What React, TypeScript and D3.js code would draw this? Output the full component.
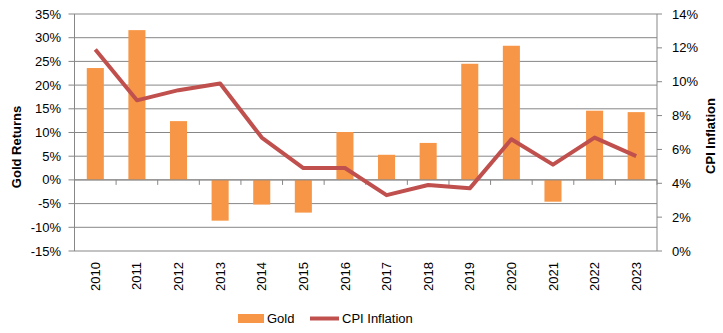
import React from "react";
import * as d3 from "d3";

const years = ["2010","2011","2012","2013","2014","2015","2016","2017","2018","2019","2020","2021","2022","2023"];
const goldReturns = [23.6, 31.6, 12.4, -8.6, -5.2, -6.9, 10.1, 5.3, 7.8, 24.5, 28.3, -4.6, 14.6, 14.3];
const cpiInflation = [11.9, 8.9, 9.5, 9.9, 6.7, 4.9, 4.9, 3.3, 3.9, 3.7, 6.6, 5.1, 6.7, 5.6];
const leftTicks = [-15, -10, -5, 0, 5, 10, 15, 20, 25, 30, 35];
const rightTicks = [0, 2, 4, 6, 8, 10, 12, 14];

const W = 723, H = 333;
const L = 74.5, R = 657, T = 14, B = 251;
const FONT = "'Liberation Sans', Arial, sans-serif";
const GRID = "#878787";
const ORANGE = "#F79646";
const RED = "#C0504D";

export default function App() {
  const x = d3.scaleBand<string>().domain(years).range([L, R]).paddingInner(0.59).paddingOuter(0.295);
  const xb = d3.scaleBand<string>().domain(years).range([L, R]);
  const yL = d3.scaleLinear().domain([-15, 35]).range([B, T]);
  const yR = d3.scaleLinear().domain([0, 14]).range([B, T]);
  const line = d3.line<number>()
    .x((_, i) => (xb(years[i]) as number) + xb.bandwidth() / 2)
    .y((d) => yR(d));
  const zero = yL(0);

  return (
    <svg width={W} height={H} style={{ position: "absolute", left: 0, top: 0, background: "#fff" }} fontFamily={FONT}>
      {leftTicks.map((t) => (
        <g key={"g" + t}>
          <line x1={L - 6} x2={R} y1={yL(t)} y2={yL(t)} stroke={GRID} strokeWidth={1} />
          <text x={61} y={yL(t)} dy="0.35em" textAnchor="end" fontSize={13} fill="#000">{t}%</text>
        </g>
      ))}
      <line x1={L} x2={L} y1={T} y2={B} stroke={GRID} strokeWidth={1} />
      <line x1={R} x2={R} y1={T} y2={B} stroke={GRID} strokeWidth={1} />
      {rightTicks.map((t) => (
        <g key={"r" + t}>
          <line x1={R} x2={R + 5} y1={yR(t)} y2={yR(t)} stroke={GRID} strokeWidth={1} />
          <text x={672} y={yR(t)} dy="0.35em" textAnchor="start" fontSize={13} fill="#000">{t}%</text>
        </g>
      ))}
      {goldReturns.map((v, i) => (
        <rect key={"b" + i} x={x(years[i])} width={x.bandwidth()}
          y={Math.min(yL(v), zero)} height={Math.abs(yL(v) - zero)} fill={ORANGE} />
      ))}
      <line x1={L} x2={R} y1={zero} y2={zero} stroke={GRID} strokeWidth={1} />
      {years.map((yr, i) => (
        <line key={"t" + yr} x1={(xb(yr) as number) + (i === 0 ? 0 : 0)} x2={xb(yr) as number}
          y1={zero} y2={zero + 5} stroke={GRID} strokeWidth={1} />
      ))}
      <line x1={R} x2={R} y1={zero} y2={zero + 5} stroke={GRID} strokeWidth={1} />
      <path d={line(cpiInflation) || ""} fill="none" stroke={RED} strokeWidth={4} strokeLinejoin="round" />
      {years.map((yr) => {
        const cx = (xb(yr) as number) + xb.bandwidth() / 2;
        return (
          <text key={"y" + yr} transform={`translate(${cx},262) rotate(-90)`} dy="0.35em"
            textAnchor="end" fontSize={13} fill="#000">{yr}</text>
        );
      })}
      <text transform="translate(16,147) rotate(-90)" dy="0.35em" textAnchor="middle"
        fontSize={13} fontWeight="bold" fill="#000">Gold Returns</text>
      <text transform="translate(710,136) rotate(-90)" dy="0.35em" textAnchor="middle"
        fontSize={13} fontWeight="bold" fill="#000">CPI Inflation</text>
      <rect x={238} y={314} width={26} height={9} fill={ORANGE} />
      <text x={267} y={318.5} dy="0.35em" fontSize={13} fill="#000">Gold</text>
      <line x1={310} x2={339} y1={318.5} y2={318.5} stroke={RED} strokeWidth={4} />
      <text x={342} y={318.5} dy="0.35em" fontSize={13} fill="#000">CPI Inflation</text>
    </svg>
  );
}
